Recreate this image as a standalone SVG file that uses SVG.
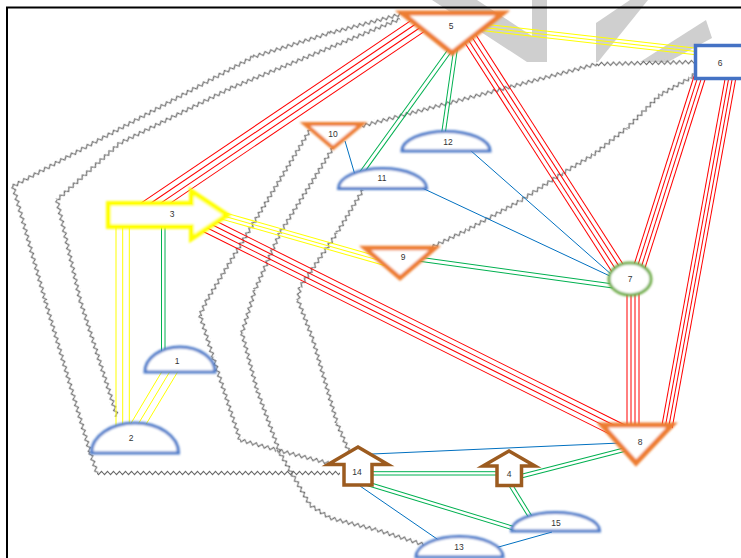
<svg xmlns="http://www.w3.org/2000/svg" width="741" height="558" viewBox="0 0 741 558">
<defs>
<style>
.r{stroke:#ff0000;stroke-width:1;fill:none}
.y{stroke:#ffff00;stroke-width:1;fill:none}
.g{stroke:#00b050;stroke-width:1;fill:none}
.b{stroke:#0070c0;stroke-width:1;fill:none}
.z{fill:url(#zz)}
.wm{fill:#cfcfcf}
.tri{fill:#fff;stroke:#ed7d31;stroke-linejoin:miter;filter:url(#soft)}
.dome{fill:#fff;stroke:#4a78c8;stroke-width:3;filter:url(#soft)}
.up{fill:#fff;stroke:#9c5b1f;stroke-width:3.5;stroke-linejoin:miter}
.lbl{font-family:"Liberation Sans",Arial,sans-serif;font-size:8.5px;fill:#333;text-anchor:middle}
</style>
<pattern id="zz" patternUnits="userSpaceOnUse" x="0" y="-3" width="6" height="6">
<polyline points="0,3 1.5,4.6 4.5,1.4 6,3" fill="none" stroke="#6a6a6a" stroke-width="1.1"/>
</pattern>
<filter id="soft" filterUnits="userSpaceOnUse" x="0" y="0" width="741" height="558"><feGaussianBlur stdDeviation="0.8"/></filter>
</defs>
<rect width="741" height="558" fill="#fff"/>
<g id="watermark">
<polygon class="wm" points="432,0 477,0 532,36 532,0 547,0 547,62 527,62"/>
<polygon class="wm" points="596,62 596,23 630,0 648,0 598,62"/>
<polygon class="wm" points="640,62 706,20 712,38 668,62"/>
</g>
<rect id="frame" x="7" y="7.5" width="760" height="580" fill="none" stroke="#000" stroke-width="2"/>
<g id="connectors">
<g id="zigzags">
<!-- 5 - 14 -->
<rect class="z" x="0" y="-3" width="75" height="6" transform="translate(402,14) rotate(165.2)"/>
<rect class="z" x="0" y="-3" width="81" height="6" transform="translate(330,33) rotate(162.7)"/>
<rect class="z" x="0" y="-3" width="273" height="6" transform="translate(253,57) rotate(151.7)"/>
<rect class="z" x="0" y="-3" width="119" height="6" transform="translate(13,186) rotate(74.3)"/>
<rect class="z" x="0" y="-3" width="159" height="6" transform="translate(45,300) rotate(73.5)"/>
<rect class="z" x="0" y="-3" width="22" height="6" transform="translate(90,452) rotate(71.6)"/>
<rect class="z" x="0" y="-3" width="243" height="6" transform="translate(97,473)"/>
<!-- 5 - 2 -->
<rect class="z" x="0" y="-3" width="181" height="6" transform="translate(400,19) rotate(157.8)"/>
<rect class="z" x="0" y="-3" width="126" height="6" transform="translate(233,87) rotate(153.6)"/>
<rect class="z" x="0" y="-3" width="85" height="6" transform="translate(120,143) rotate(137.9)"/>
<rect class="z" x="0" y="-3" width="103" height="6" transform="translate(57,200) rotate(77)"/>
<rect class="z" x="0" y="-3" width="122" height="6" transform="translate(80,300) rotate(72.3)"/>
<!-- 10 - 14 -->
<rect class="z" x="0" y="-3" width="199" height="6" transform="translate(310,130) rotate(121.2)"/>
<rect class="z" x="0" y="-3" width="17" height="6" transform="translate(207,300) rotate(115)"/>
<rect class="z" x="0" y="-3" width="44" height="6" transform="translate(200,315) rotate(72.8)"/>
<rect class="z" x="0" y="-3" width="87" height="6" transform="translate(213,357) rotate(72)"/>
<rect class="z" x="0" y="-3" width="38" height="6" transform="translate(240,440) rotate(15.1)"/>
<rect class="z" x="0" y="-3" width="53" height="6" transform="translate(277,450) rotate(14.3)"/>
<!-- 10 - 13 -->
<rect class="z" x="0" y="-3" width="100" height="6" transform="translate(333,148) rotate(121.9)"/>
<rect class="z" x="0" y="-3" width="62" height="6" transform="translate(280,233) rotate(113.7)"/>
<rect class="z" x="0" y="-3" width="45" height="6" transform="translate(255,290) rotate(106.8)"/>
<rect class="z" x="0" y="-3" width="59" height="6" transform="translate(242,333) rotate(75.3)"/>
<rect class="z" x="0" y="-3" width="67" height="6" transform="translate(257,390) rotate(70)"/>
<rect class="z" x="0" y="-3" width="60" height="6" transform="translate(280,453) rotate(60)"/>
<rect class="z" x="0" y="-3" width="24" height="6" transform="translate(310,505) rotate(33)"/>
<rect class="z" x="0" y="-3" width="48" height="6" transform="translate(330,518) rotate(14.3)"/>
<rect class="z" x="0" y="-3" width="50" height="6" transform="translate(377,530) rotate(17.4)"/>
<!-- 11 - 14 -->
<rect class="z" x="0" y="-3" width="50" height="6" transform="translate(363,190) rotate(121.2)"/>
<rect class="z" x="0" y="-3" width="65" height="6" transform="translate(337,233) rotate(124.4)"/>
<rect class="z" x="0" y="-3" width="13" height="6" transform="translate(300,287) rotate(98.7)"/>
<rect class="z" x="0" y="-3" width="43" height="6" transform="translate(298,300) rotate(69.4)"/>
<rect class="z" x="0" y="-3" width="86" height="6" transform="translate(313,340) rotate(73.9)"/>
<rect class="z" x="0" y="-3" width="31" height="6" transform="translate(337,423) rotate(67.5)"/>
<!-- 6 - 10 -->
<rect class="z" x="0" y="-3" width="243" height="6" transform="translate(362,126) rotate(-14.8)"/>
<rect class="z" x="0" y="-3" width="100" height="6" transform="translate(597,64) rotate(-1.15)"/>
<!-- 6 - 9 -->
<rect class="z" x="0" y="-3" width="41" height="6" transform="translate(430,248) rotate(-25.9)"/>
<rect class="z" x="0" y="-3" width="60" height="6" transform="translate(467,230) rotate(-28.7)"/>
<rect class="z" x="0" y="-3" width="51" height="6" transform="translate(520,201) rotate(-33.1)"/>
<rect class="z" x="0" y="-3" width="35" height="6" transform="translate(563,173) rotate(-31)"/>
<rect class="z" x="0" y="-3" width="43" height="6" transform="translate(593,155) rotate(-38.5)"/>
<rect class="z" x="0" y="-3" width="47" height="6" transform="translate(627,128) rotate(-45)"/>
<rect class="z" x="0" y="-3" width="34" height="6" transform="translate(660,95) rotate(-29.5)"/>
<rect class="z" x="0" y="-3" width="9" height="6" transform="translate(690,78) rotate(-40.6)"/>
</g>
<!-- red bundles -->
<g class="r" transform="translate(425,21) rotate(145.93)">
<line x1="0" y1="-8.25" x2="345" y2="-8.25"/><line x1="0" y1="-2.75" x2="345" y2="-2.75"/><line x1="0" y1="2.75" x2="345" y2="2.75"/><line x1="0" y1="8.25" x2="345" y2="8.25"/>
</g>
<g class="r" transform="translate(466,32) rotate(57.3)">
<line x1="0" y1="-6.75" x2="285" y2="-6.75"/><line x1="0" y1="-2.25" x2="285" y2="-2.25"/><line x1="0" y1="2.25" x2="285" y2="2.25"/><line x1="0" y1="6.75" x2="285" y2="6.75"/>
</g>
<g class="r" transform="translate(702,70) rotate(107.65)">
<line x1="0" y1="-5.7" x2="208" y2="-5.7"/><line x1="0" y1="-1.9" x2="208" y2="-1.9"/><line x1="0" y1="1.9" x2="208" y2="1.9"/><line x1="0" y1="5.7" x2="208" y2="5.7"/>
</g>
<g class="r" transform="translate(732,70) rotate(100.32)">
<line x1="0" y1="-5.25" x2="363" y2="-5.25"/><line x1="0" y1="-1.75" x2="363" y2="-1.75"/><line x1="0" y1="1.75" x2="363" y2="1.75"/><line x1="0" y1="5.25" x2="363" y2="5.25"/>
</g>
<g class="r">
<line x1="627" y1="290" x2="627" y2="428"/><line x1="631" y1="290" x2="631" y2="428"/><line x1="635" y1="290" x2="635" y2="428"/><line x1="639" y1="290" x2="639" y2="428"/>
</g>
<g class="r" transform="translate(205,224) rotate(26.5)">
<line x1="0" y1="-7.5" x2="466" y2="-7.5"/><line x1="0" y1="-2.5" x2="466" y2="-2.5"/><line x1="0" y1="2.5" x2="466" y2="2.5"/><line x1="0" y1="7.5" x2="466" y2="7.5"/>
</g>
<!-- yellow bundles -->
<g class="y" transform="translate(480,27) rotate(6.48)">
<line x1="0" y1="-3.3" x2="222" y2="-3.3"/><line x1="0" y1="0" x2="222" y2="0"/><line x1="0" y1="3.3" x2="222" y2="3.3"/>
</g>
<g class="y" transform="translate(220,215) rotate(15.9)">
<line x1="0" y1="-3.5" x2="172" y2="-3.5"/><line x1="0" y1="0" x2="172" y2="0"/><line x1="0" y1="3.5" x2="172" y2="3.5"/>
</g>
<g class="y">
<line x1="116" y1="222" x2="116" y2="428"/><line x1="122.7" y1="222" x2="122.7" y2="428"/><line x1="129.3" y1="222" x2="129.3" y2="428"/>
<line x1="164" y1="368" x2="130" y2="425"/><line x1="172" y1="368" x2="137" y2="426"/><line x1="180" y1="368" x2="145" y2="426"/>
</g>
<!-- green bundles -->
<g class="g">
<line x1="161.5" y1="222" x2="161.5" y2="353"/><line x1="165" y1="222" x2="165" y2="353"/>
<line x1="370" y1="471.7" x2="498" y2="471.7"/><line x1="370" y1="475" x2="498" y2="475"/>
</g>
<g class="g" transform="translate(453,46) rotate(125.8)"><line x1="0" y1="-2" x2="159" y2="-2"/><line x1="0" y1="2" x2="159" y2="2"/></g>
<g class="g" transform="translate(456,46) rotate(98.2)"><line x1="0" y1="-1.8" x2="91" y2="-1.8"/><line x1="0" y1="1.8" x2="91" y2="1.8"/></g>
<g class="g" transform="translate(418,259) rotate(7.88)"><line x1="0" y1="-2" x2="197" y2="-2"/><line x1="0" y1="2" x2="197" y2="2"/></g>
<g class="g" transform="translate(518,477) rotate(-14.4)"><line x1="0" y1="-1.8" x2="112.5" y2="-1.8"/><line x1="0" y1="1.8" x2="112.5" y2="1.8"/></g>
<g class="g" transform="translate(365,483) rotate(16.94)"><line x1="0" y1="-1.8" x2="158" y2="-1.8"/><line x1="0" y1="1.8" x2="158" y2="1.8"/></g>
<g class="g" transform="translate(510,484) rotate(58.3)"><line x1="0" y1="-1.8" x2="40" y2="-1.8"/><line x1="0" y1="1.8" x2="40" y2="1.8"/></g>
<!-- blue -->
<g class="b">
<line x1="345" y1="141" x2="355" y2="175"/>
<line x1="470" y1="150" x2="612" y2="275"/>
<line x1="420" y1="187" x2="612" y2="277"/>
<line x1="372" y1="454" x2="620" y2="443"/>
<line x1="360" y1="486" x2="440" y2="541"/>
<line x1="495" y1="548" x2="552" y2="532"/>
</g>
</g>
<g id="node-1"><path class="dome" d="M145,372 A35,25 0 0 1 215,372 Z"/><text class="lbl" x="177" y="364">1</text></g>
<g id="node-2"><path class="dome" d="M91.5,453 A43.5,30 0 0 1 178.5,453 Z"/><text class="lbl" x="131" y="441">2</text></g>
<g id="node-3"><polygon points="108.5,203.5 191.5,203.5 191.5,191.5 227,215 191.5,238.5 191.5,226.5 108.5,226.5" fill="#fff" stroke="#ffff00" stroke-width="5" filter="url(#soft)"/><text class="lbl" x="172" y="217">3</text></g>
<g id="node-4"><polygon class="up" points="509,451 535,466 521.5,466 521.5,485.5 497,485.5 497,466 483,466"/><text class="lbl" x="509" y="477">4</text></g>
<g id="node-5"><polygon class="tri" stroke-width="5" points="402,13 503,13 452,53"/><text class="lbl" x="451" y="29">5</text></g>
<g id="node-6"><rect x="695.5" y="45.5" width="60" height="33" fill="#fff" stroke="#4472c4" stroke-width="3.5"/><text class="lbl" x="720" y="66">6</text></g>
<g id="node-7"><ellipse cx="630" cy="279" rx="21" ry="16" fill="#fff" stroke="#70ad47" stroke-width="3" filter="url(#soft)"/><text class="lbl" x="630" y="282">7</text></g>
<g id="node-8"><polygon class="tri" stroke-width="5" points="602,425 672,425 636,463"/><text class="lbl" x="640" y="445">8</text></g>
<g id="node-9"><polygon class="tri" stroke-width="4.5" points="365,248 435,248 400,278"/><text class="lbl" x="403" y="260">9</text></g>
<g id="node-10"><polygon class="tri" stroke-width="4" points="305,124 362,124 333,148"/><text class="lbl" x="333" y="137">10</text></g>
<g id="node-11"><path class="dome" d="M338.5,188.5 A44,20 0 0 1 426.5,188.5 Z"/><text class="lbl" x="382" y="181">11</text></g>
<g id="node-12"><path class="dome" d="M402,151 A44,19.5 0 0 1 490,151 Z"/><text class="lbl" x="448" y="145">12</text></g>
<g id="node-13"><path class="dome" d="M416,557 A43.5,20.5 0 0 1 503,557 Z"/><text class="lbl" x="459" y="550">13</text></g>
<g id="node-14"><polygon class="up" points="358,447 388,464.5 372,464.5 372,485 344,485 344,464.5 328,464.5"/><text class="lbl" x="357" y="475">14</text></g>
<g id="node-15"><path class="dome" d="M511.5,531 A44,18.5 0 0 1 599.5,531 Z"/><text class="lbl" x="556" y="526">15</text></g>
</svg>
